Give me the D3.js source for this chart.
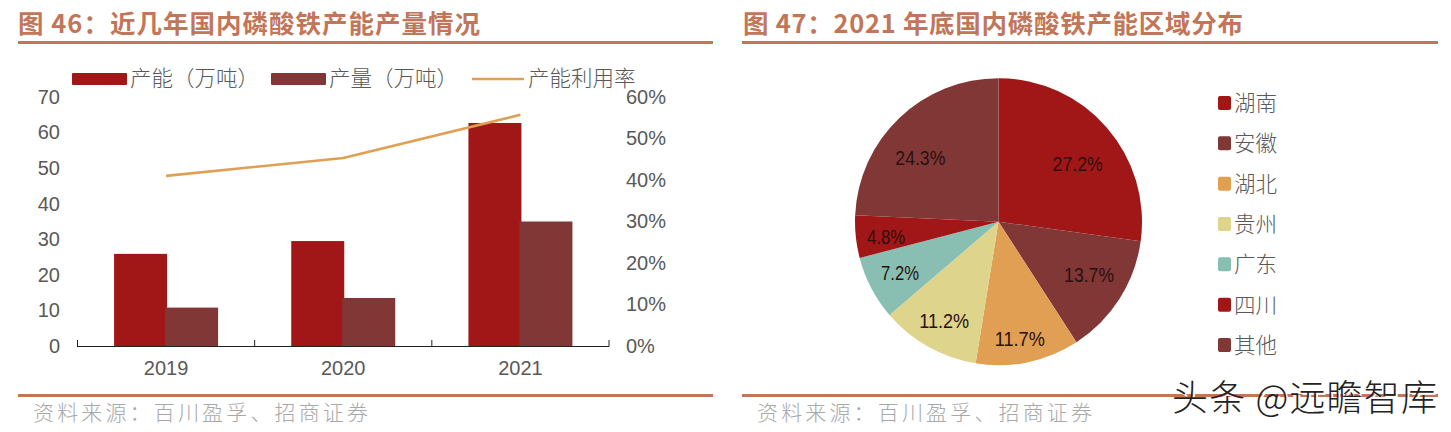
<!DOCTYPE html>
<html><head><meta charset="utf-8">
<script src="https://cdnjs.cloudflare.com/ajax/libs/d3/7.8.5/d3.min.js"></script>
<style>html,body{margin:0;padding:0;background:#fff}svg{display:block}text{font-family:"Liberation Sans",Arial,sans-serif}.cjk{font-family:"Noto Sans CJK SC",sans-serif}</style>
</head><body><svg id="c" width="1451" height="432"></svg>
<script>
const years=["2019","2020","2021"];
const capacity=[25.9,29.5,62.7];
const output=[10.8,13.5,35];
const utilisation=[0.41,0.453,0.557];
const leftTicks=[0,10,20,30,40,50,60,70];
const rightTicks=[0,0.1,0.2,0.3,0.4,0.5,0.6];
const barLegend=["产能（万吨）","产量（万吨）","产能利用率"];
const regions=["湖南","安徽","湖北","贵州","广东","四川","其他"];
const shares=[27.2,13.7,11.7,11.2,7.2,4.8,24.3];
const titles=["图 46：近几年国内磷酸铁产能产量情况","图 47：2021 年底国内磷酸铁产能区域分布"];
const sourceNote="资料来源：百川盈孚、招商证券";
const watermark="头条 @远瞻智库";
const red="#a11616",brown="#803736",orange="#e09f52",sand="#dfd48c",teal="#88bfb2";
const pieColors=[red,brown,orange,sand,teal,red,brown];
const rule="#c27659",grey="#595959";

const svg=d3.select("#c");
// panel frames
[[18,713,18,462],[742,1438,743,500]].forEach(([x0,x1,tx,tl],i)=>{
  [42.5,395.5].forEach(y=>svg.append("rect").attr("x",x0).attr("y",y-1.5).attr("width",x1-x0).attr("height",3).attr("fill",rule));
  svg.append("text").attr("class","cjk").attr("x",tx).attr("y",33).attr("font-size",25.5).attr("font-weight",700).attr("fill",rule).attr("textLength",tl).text(titles[i]);
  svg.append("text").attr("class","cjk").attr("x",x0+15).attr("y",420).attr("font-size",21).attr("font-weight",300).attr("fill","#a8a8a8").attr("textLength",335).text(sourceNote);
});
// combo chart
const x=d3.scaleBand().domain(years).range([77.5,609]);
const y=d3.scaleLinear().domain([0,70]).range([346,97]);
const yr=d3.scaleLinear().domain([0,0.6]).range([346,97]);
const bw=53;
const g=svg.append("g");
[[capacity,red,-bw+1],[output,brown,-1]].forEach(([vals,col,off])=>{
  g.selectAll(null).data(vals).join("rect")
   .attr("x",(d,i)=>x(years[i])+x.bandwidth()/2+off)
   .attr("y",d=>y(d)).attr("width",bw).attr("height",d=>y(0)-y(d)).attr("fill",col);
});
const axB=svg.append("g").attr("transform","translate(0,346)").call(
  d3.axisBottom(x).tickSize(0).tickPadding(15));
axB.select(".domain").remove();
axB.selectAll("text").attr("font-size",20).attr("fill",grey).style("font-family","Liberation Sans");
svg.append("line").attr("x1",77).attr("x2",609).attr("y1",346.5).attr("y2",346.5).attr("stroke","#222").attr("stroke-width",1.2);
x.domain().concat("end").forEach((d,i)=>{
  const px=77.5+i*x.bandwidth();
  svg.append("line").attr("x1",px).attr("x2",px).attr("y1",340).attr("y2",346.5).attr("stroke","#222");
});
const axL=svg.append("g").attr("transform","translate(60,0)").call(d3.axisLeft(y).tickValues(leftTicks).tickSize(0).tickPadding(0));
axL.select(".domain").remove();
axL.selectAll("text").attr("font-size",20).attr("fill",grey).style("font-family","Liberation Sans");
const axR=svg.append("g").attr("transform","translate(626,0)").call(d3.axisRight(yr).tickValues(rightTicks).tickFormat(d3.format(".0%")).tickSize(0).tickPadding(0));
axR.select(".domain").remove();
axR.selectAll("text").attr("font-size",20).attr("fill",grey).style("font-family","Liberation Sans");
svg.append("path").attr("fill","none").attr("stroke",orange).attr("stroke-width",2.6)
  .attr("d",d3.line().x((d,i)=>x(years[i])+x.bandwidth()/2).y(d=>yr(d))(utilisation));
// combo legend
[[72,red],[271,brown]].forEach(([lx,c],i)=>{
  svg.append("rect").attr("x",lx).attr("y",73).attr("width",55).attr("height",12).attr("rx",1).attr("fill",c);
  svg.append("text").attr("class","cjk").attr("x",lx+58).attr("y",86).attr("font-size",21.5).attr("font-weight",300).attr("fill",grey).text(barLegend[i]);
});
svg.append("line").attr("x1",472).attr("x2",524).attr("y1",79).attr("y2",79).attr("stroke",orange).attr("stroke-width",2.6);
svg.append("text").attr("class","cjk").attr("x",528).attr("y",86).attr("font-size",21.5).attr("font-weight",300).attr("fill",grey).text(barLegend[2]);
// pie
const pie=d3.pie().sort(null)(shares);
const arc=d3.arc().innerRadius(0).outerRadius(143.5);
const pg=svg.append("g").attr("transform","translate(998.5,221.7)");
pg.selectAll("path").data(pie).join("path").attr("d",arc).attr("fill",(d,i)=>pieColors[i]);
const labelRadius=[101,105,118,113,110,113,103];
const labelNudge=[[3,8],[2,-3],[-3,1],[1,0],[-1,0],[0,3],[-7,10]];
pg.selectAll("text").data(pie).join("text")
  .attr("transform",(d,i)=>{
    const [cx,cy]=d3.arc().innerRadius(labelRadius[i]).outerRadius(labelRadius[i]).centroid(d);
    return `translate(${cx+labelNudge[i][0]},${cy+labelNudge[i][1]})`;
  })
  .attr("text-anchor","middle").attr("dy","0.35em").attr("font-size",21).attr("fill","#2a1010")
  .attr("textLength",(d)=>d.data>=10?50:38).attr("lengthAdjust","spacingAndGlyphs")
  .text(d=>d.data.toFixed(1)+"%");
// pie legend
const ly=d3.scalePoint().domain(regions).range([103,345]);
regions.forEach((r,i)=>{
  svg.append("rect").attr("x",1218).attr("y",ly(r)-7).attr("width",13).attr("height",14).attr("rx",2).attr("fill",pieColors[i]);
  svg.append("text").attr("class","cjk").attr("x",1234).attr("y",ly(r)+8).attr("font-size",21.5).attr("font-weight",300).attr("fill",grey).text(r);
});
// watermark
[["#fff",2,2],["#222",0,0]].forEach(([c,dx,dy])=>{
  svg.append("text").attr("class","cjk").attr("x",1172+dx).attr("y",411+dy).attr("font-size",36).attr("font-weight",300).attr("fill",c).attr("textLength",265).text(watermark);
});
</script></body></html>
